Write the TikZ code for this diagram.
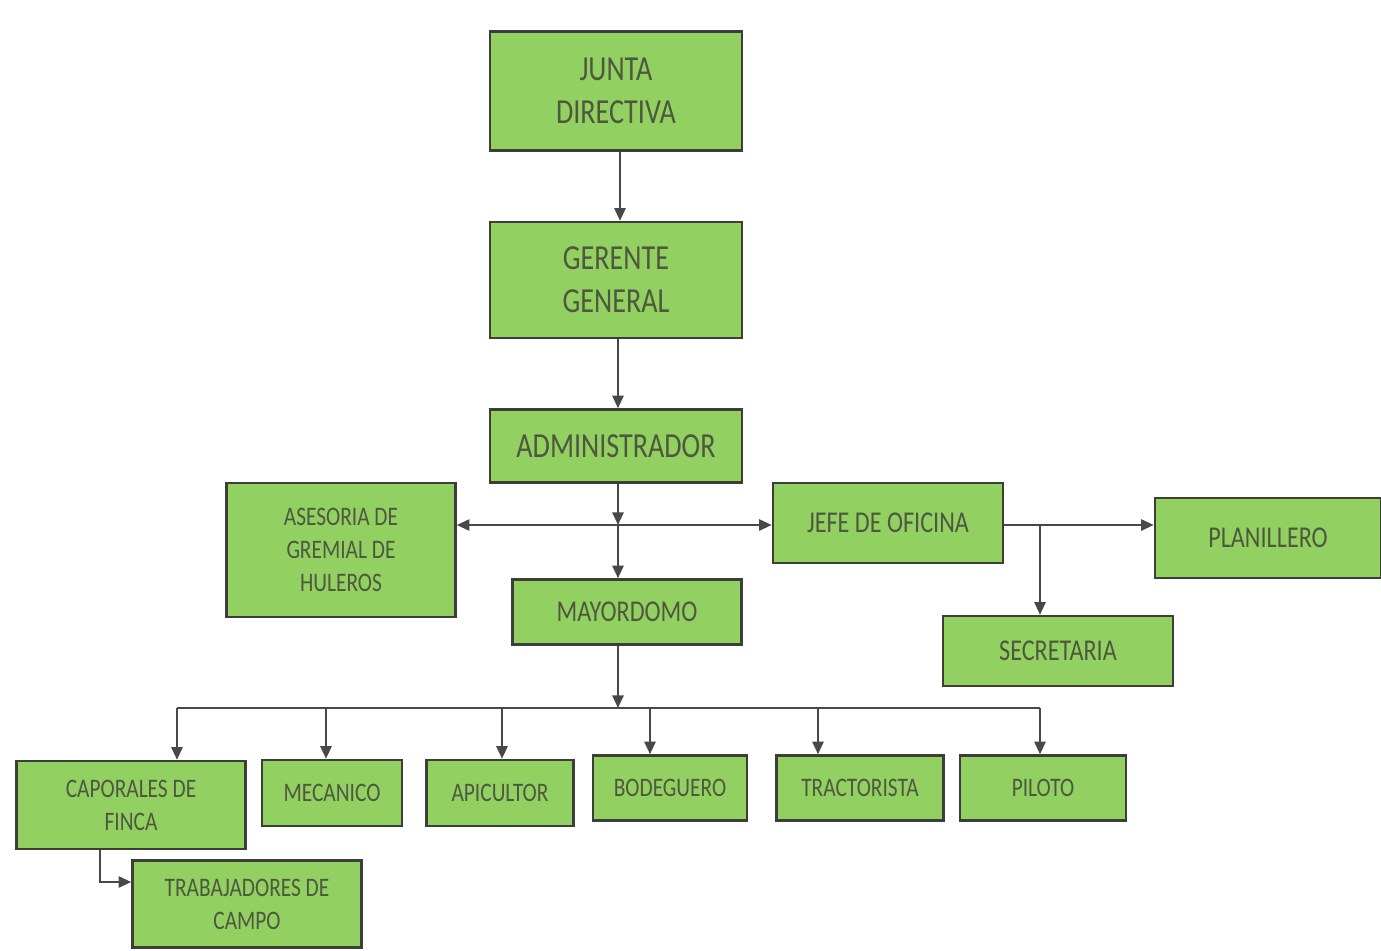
\documentclass[tikz,border=0pt]{standalone}
\usepackage{fontspec}
\setmainfont[FakeStretch=0.8]{Carlito}
\usetikzlibrary{positioning}
\usetikzlibrary{calc}
\usetikzlibrary{arrows.meta}
\definecolor{boxgreen}{RGB}{146,208,98}
\definecolor{boxedge}{RGB}{60,62,55}
\definecolor{boxtext}{RGB}{78,88,62}
\definecolor{linegray}{RGB}{72,72,72}

\begin{document}
\begin{tikzpicture}
    [x=0.01cm, y=-0.01cm,
    box/.style={draw=boxedge, line width=0.7pt, fill=boxgreen, text=boxtext, align=center, inner sep=1pt},
    big/.style={font=\fontsize{10}{12.2}\selectfont},
    mid/.style={font=\fontsize{8.6}{10.5}\selectfont},
    small/.style={font=\fontsize{7.6}{9.4}\selectfont},
    arr/.style={draw=linegray, line width=0.6pt, -{Triangle[length=3.6pt,width=3.2pt]}},
    bar/.style={draw=linegray, line width=0.6pt}]
     \useasboundingbox (0,0) rectangle (1381,951);
     %\draw[step=100,gray,very thin] (0,0) grid (1381,951);
     \node[box, big, minimum width=2.52cm, minimum height=1.19cm] (junta) at (616, 91)   {JUNTA\\DIRECTIVA};
     \node[box, big, minimum width=2.52cm, minimum height=1.16cm] (gerente) at (616, 280) {GERENTE\\GENERAL};
     \node[box, big, minimum width=2.52cm, minimum height=0.73cm] (admin) at (616, 446)   {ADMINISTRADOR};
     \node[box, small, minimum width=2.29cm, minimum height=1.34cm] (asesoria) at (341, 550) {ASESORIA DE\\GREMIAL DE\\HULEROS};
     \node[box, mid, minimum width=2.30cm, minimum height=0.80cm] (jefe) at (888, 523)     {JEFE DE OFICINA};
     \node[box, mid, minimum width=2.26cm, minimum height=0.80cm] (planillero) at (1268, 538) {PLANILLERO};
     \node[box, mid, minimum width=2.30cm, minimum height=0.70cm] (secretaria) at (1058, 651) {SECRETARIA};
     \node[box, mid, minimum width=2.29cm, minimum height=0.65cm] (mayordomo) at (627, 612) {MAYORDOMO};
     \node[box, small, minimum width=2.29cm, minimum height=0.88cm] (caporales) at (131, 805) {CAPORALES DE\\FINCA};
     \node[box, small, minimum width=1.40cm, minimum height=0.66cm] (mecanico) at (332, 793) {MECANICO};
     \node[box, small, minimum width=1.47cm, minimum height=0.66cm] (apicultor) at (500, 793) {APICULTOR};
     \node[box, small, minimum width=1.54cm, minimum height=0.65cm] (bodeguero) at (670, 788) {BODEGUERO};
     \node[box, small, minimum width=1.67cm, minimum height=0.65cm] (tractorista) at (860, 788) {TRACTORISTA};
     \node[box, small, minimum width=1.66cm, minimum height=0.65cm] (piloto) at (1043, 788) {PILOTO};
     \node[box, small, minimum width=2.29cm, minimum height=0.87cm] (trabajadores) at (247, 904) {TRABAJADORES DE\\CAMPO};
     % junctions
     \coordinate (j1) at (618, 525);
     \coordinate (j2) at (1040, 525);
     \coordinate (bus) at (618, 708);
     \coordinate (d1) at (177, 708);
     \coordinate (d2) at (326, 708);
     \coordinate (d3) at (502, 708);
     \coordinate (d4) at (650, 708);
     \coordinate (d5) at (818, 708);
     \coordinate (d6) at (1040, 708);
     \coordinate (c1) at (100, 882);
     \draw[arr] (junta.south -| 620,0) -- (gerente.north -| 620,0);
     \draw[arr] (gerente.south -| j1) -- (admin.north -| j1);
     \draw[arr] (admin.south -| j1) -- (j1);
     \draw[arr] (j1) -- (j1 -| asesoria.east);
     \draw[arr] (j1) -- (j1 -| jefe.west);
     \draw[arr] (j1) -- (j1 |- mayordomo.north);
     \draw[arr] (jefe.east |- j2) -- (j2 -| planillero.west);
     \draw[arr] (j2) -- (j2 |- secretaria.north);
     \draw[arr] (mayordomo.south -| bus) -- (bus);
     \draw[bar] (d1) -- (d6);
     \draw[arr] (d1) -- (d1 |- caporales.north);
     \draw[arr] (d2) -- (d2 |- mecanico.north);
     \draw[arr] (d3) -- (d3 |- apicultor.north);
     \draw[arr] (d4) -- (d4 |- bodeguero.north);
     \draw[arr] (d5) -- (d5 |- tractorista.north);
     \draw[arr] (d6) -- (d6 |- piloto.north);
     \draw[arr] (caporales.south -| c1) -- (c1) -- (c1 -| trabajadores.west);
\end{tikzpicture}
\end{document}
